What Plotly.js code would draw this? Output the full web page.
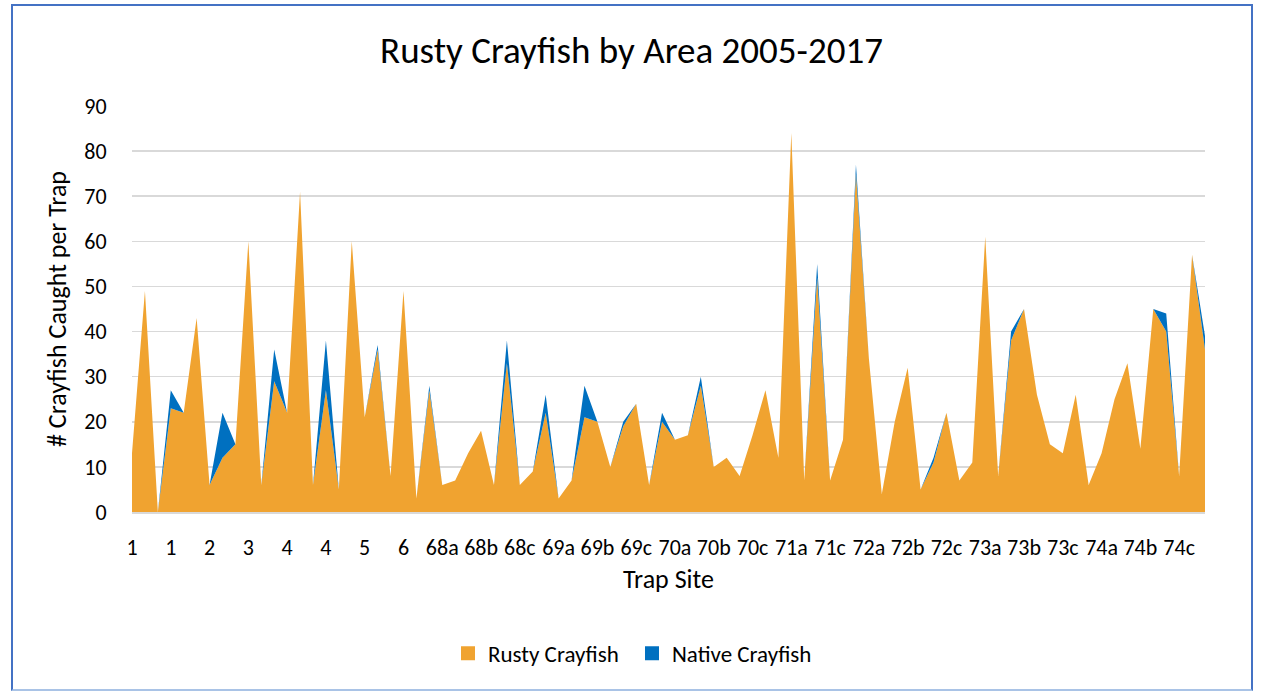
<!DOCTYPE html>
<html>
<head>
<meta charset="utf-8">
<script src="https://cdn.plot.ly/plotly-3.0.1.min.js"></script>
<style>
  html, body { margin: 0; padding: 0; background: #ffffff; }
  #wrap { position: relative; width: 1263px; height: 691px; overflow: hidden; }
  #chart { position: absolute; left: 0; top: 0; width: 1263px; height: 691px; }
  #frame { position: absolute; left: 11px; top: 4px; width: 1238px; height: 683px;
           border: 2px solid #4472C4; border-bottom-color: #A9C3E6; pointer-events: none; }
</style>
</head>
<body>
<div id="wrap">
  <div id="chart"></div>
  <div id="frame"></div>
</div>
<script>
// Tick labels shown on the category axis (every third trap)
const tickLabels = ["1","1","2","3","4","4","5","6","68a","68b","68c","69a","69b","69c",
                    "70a","70b","70c","71a","71c","72a","72b","72c","73a","73b","73c","74a","74b","74c"];

// Rusty crayfish caught per trap (84 traps, left to right)
const rusty = [13,49,0,23,22,43,6,12,15,60,
               6,29,22,71,6,27,5,60,21,36,
               8,49,3,27,6,7,13,18,6,33,
               6,9,22,3,7,21,20,10,19,24,
               6,20,16,17,28,10,12,8,17,27,
               12,84,7,52,7,16,75,34,4,20,
               32,5,11,22,7,11,61,8,38,45,
               26,15,13,26,6,13,25,33,14,45,
               40,8,57,36];

// Native crayfish caught per trap (stacked on top of rusty)
const native = [0,0,0,4,0,0,0,10,0,0,
                0,7,0,0,0,11,0,0,0,1,
                0,0,0,1,0,0,0,0,0,5,
                0,0,4,0,0,7,0,0,1,0,
                0,2,0,0,2,0,0,0,0,0,
                0,0,0,3,0,0,2,0,0,0,
                0,0,1,0,0,0,0,0,2,0,
                0,0,0,0,0,0,0,0,0,0,
                4,0,0,3];

const seriesNames = ["Rusty Crayfish", "Native Crayfish"];
const seriesColors = ["#F0A330", "#0070C0"];

const xs = rusty.map((_, i) => i);
const tickVals = tickLabels.map((_, i) => i * 3);

const FONT = "Carlito, Calibri, Lato, 'Open Sans', sans-serif";

const traces = [
  {
    x: xs, y: rusty, name: seriesNames[0], type: "scatter", mode: "lines",
    stackgroup: "one", line: { width: 0, color: seriesColors[0] }, fillcolor: seriesColors[0],
    showlegend: false
  },
  {
    x: xs, y: native, name: seriesNames[1], type: "scatter", mode: "lines",
    stackgroup: "one", line: { width: 0, color: seriesColors[1] }, fillcolor: seriesColors[1],
    showlegend: false
  },
  // legend-only entries with square keys
  {
    x: [null], y: [null], name: seriesNames[0], type: "scatter", mode: "markers",
    marker: { symbol: "square", size: 14, color: seriesColors[0] }, showlegend: true
  },
  {
    x: [null], y: [null], name: seriesNames[1], type: "scatter", mode: "markers",
    marker: { symbol: "square", size: 14, color: seriesColors[1] }, showlegend: true
  }
];

const layout = {
  width: 1263, height: 691,
  margin: { l: 132, r: 58, t: 106, b: 179, pad: 0 },
  paper_bgcolor: "#ffffff", plot_bgcolor: "#ffffff",
  font: { family: FONT, color: "#000000", size: 22 },
  title: {
    text: "Rusty Crayfish by Area 2005-2017",
    font: { family: FONT, size: 37, color: "#000000" },
    x: 0.5, xanchor: "center", xref: "container",
    y: 0.928, yanchor: "middle", yref: "container"
  },
  xaxis: {
    range: [0, 83],
    tickmode: "array", tickvals: tickVals, ticktext: tickLabels,
    showgrid: false, zeroline: false,
    showline: true, linecolor: "#D9D9D9", linewidth: 1.5,
    ticks: "outside", ticklen: 15, tickcolor: "rgba(0,0,0,0)",
    tickangle: 0,
    tickfont: { family: FONT, size: 22, color: "#000000" },
    title: { text: "Trap Site", font: { family: FONT, size: 26, color: "#000000" }, standoff: 10 }
  },
  yaxis: {
    range: [0, 90], dtick: 10, tick0: 0,
    showgrid: true, gridcolor: "#D9D9D9", gridwidth: 1.5,
    zeroline: false, showline: false,
    ticks: "outside", ticklen: 20, tickcolor: "rgba(0,0,0,0)",
    tickfont: { family: FONT, size: 22, color: "#000000" },
    title: { text: "# Crayfish Caught per Trap", font: { family: FONT, size: 26, color: "#000000" }, standoff: 10 }
  },
  showlegend: true,
  legend: {
    orientation: "h", x: 0.2945, xanchor: "left", y: -0.348, yanchor: "middle",
    traceorder: "normal", font: { family: FONT, size: 23, color: "#000000" },
    itemwidth: 30, entrywidth: 139, entrywidthmode: "pixels"
  }
};

Plotly.newPlot("chart", traces, layout, { displayModeBar: false, staticPlot: true });
</script>
</body>
</html>
